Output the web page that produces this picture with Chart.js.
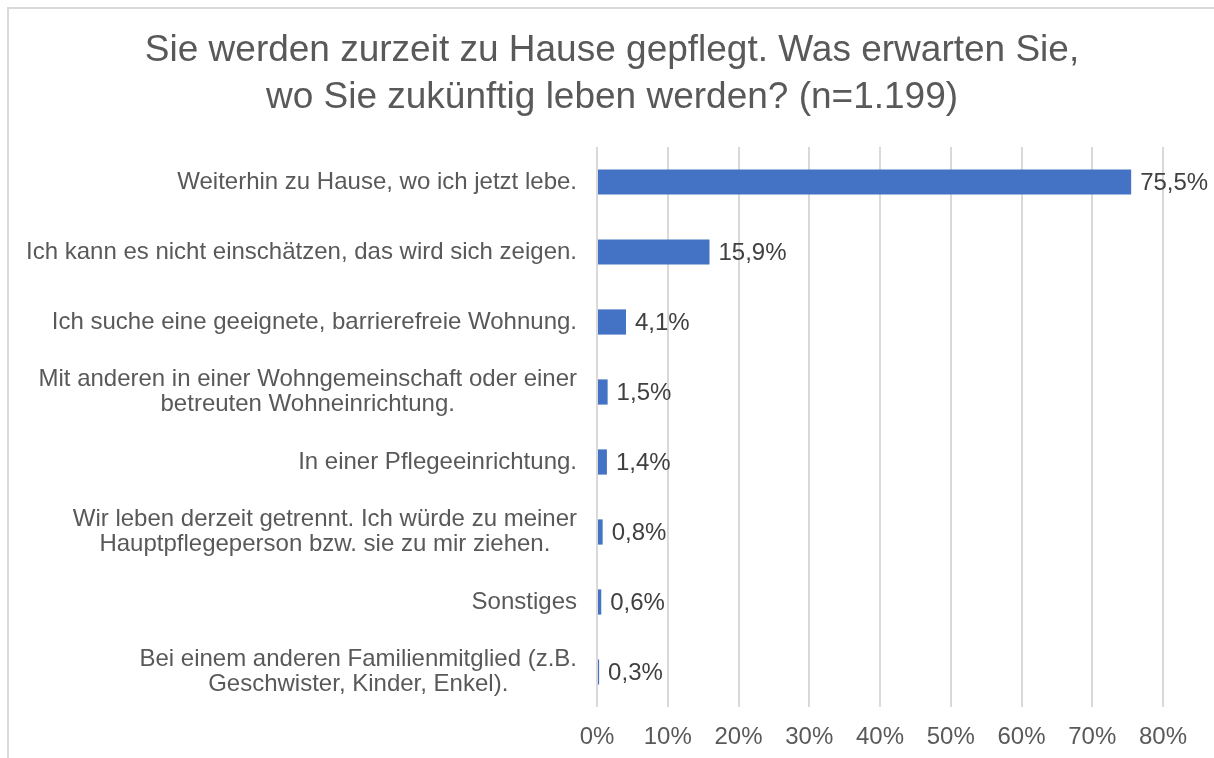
<!DOCTYPE html>
<html>
<head>
<meta charset="utf-8">
<script src="https://cdn.jsdelivr.net/npm/chart.js@4"></script>
<style>
  body { margin: 0; background: #fff; }
  #frame { position: absolute; left: 7px; top: 7px; width: 1300px; height: 900px;
           border-top: 2px solid #d9d9d9; border-left: 2px solid #d9d9d9; }
  #chart { position: absolute; left: 0; top: 0; }
</style>
</head>
<body>
<div id="frame"></div>
<canvas id="chart" width="1214" height="758"></canvas>
<script>
// categories (multi-line labels as arrays)
var categories = [
    ['Weiterhin zu Hause, wo ich jetzt lebe.'],
    ['Ich kann es nicht einschätzen, das wird sich zeigen.'],
    ['Ich suche eine geeignete, barrierefreie Wohnung.'],
    ['Mit anderen in einer Wohngemeinschaft oder einer', 'betreuten Wohneinrichtung.'],
    ['In einer Pflegeeinrichtung.'],
    ['Wir leben derzeit getrennt. Ich würde zu meiner', 'Hauptpflegeperson bzw. sie zu mir ziehen.'],
    ['Sonstiges'],
    ['Bei einem anderen Familienmitglied (z.B.', 'Geschwister, Kinder, Enkel).']
];
var values = [75.5, 15.9, 4.1, 1.5, 1.4, 0.8, 0.6, 0.3];
var titleLines = [
    'Sie werden zurzeit zu Hause gepflegt. Was erwarten Sie,',
    'wo Sie zukünftig leben werden? (n=1.199)'
];

var fontFamily = 'Arial, "Liberation Sans", sans-serif';

// title (centred on the whole chart box), value labels at bar ends,
// category labels (block right aligned, lines centred like Excel)
var labelPlugin = {
    id: 'labelPlugin',
    afterDatasetsDraw: function (chart) {
        var ctx = chart.ctx;
        var meta = chart.getDatasetMeta(0);
        var yScale = chart.scales.y;
        ctx.save();
        ctx.textBaseline = 'middle';

        ctx.font = '37px ' + fontFamily;
        ctx.fillStyle = '#595959';
        ctx.textAlign = 'center';
        titleLines.forEach(function (t, j) {
            ctx.fillText(t, 612, 51 + j * 47);
        });

        ctx.font = '24px ' + fontFamily;
        ctx.fillStyle = '#404040';
        ctx.textAlign = 'left';
        meta.data.forEach(function (bar, i) {
            var txt = values[i].toFixed(1).replace('.', ',') + '%';
            ctx.fillText(txt, bar.x + 9, bar.y + 1);
        });

        ctx.fillStyle = '#595959';
        ctx.textAlign = 'center';
        categories.forEach(function (lines, i) {
            var y = yScale.getPixelForTick(i);
            var w = Math.max.apply(null, lines.map(function (l) { return ctx.measureText(l).width; }));
            var cx = yScale.right - 20 - w / 2;
            lines.forEach(function (l, j) {
                ctx.fillText(l, cx, y + (j - (lines.length - 1) / 2) * 25);
            });
        });
        ctx.restore();
    }
};

var ctx = document.getElementById('chart').getContext('2d');
window.myBarChart = new Chart(ctx, {
    type: 'bar',
    data: {
        labels: categories,
        datasets: [{
            data: values,
            backgroundColor: '#4472C4',
            barPercentage: 0.36,
            categoryPercentage: 1
        }]
    },
    plugins: [labelPlugin],
    options: {
        responsive: false,
        animation: false,
        indexAxis: 'y',
        layout: { padding: { left: 10, right: 51, top: 147, bottom: 0 } },
        plugins: {
            legend: { display: false },
            tooltip: { enabled: false },
            title: { display: false }
        },
        scales: {
            x: {
                min: 0,
                max: 80,
                ticks: {
                    stepSize: 10,
                    color: '#595959',
                    padding: 16,
                    font: { family: fontFamily, size: 24 },
                    callback: function (v) { return v + '%'; }
                },
                grid: { color: '#d9d9d9', lineWidth: 2, drawTicks: false },
                border: { display: false },
                afterFit: function (scale) { scale.height = 51; }
            },
            y: {
                ticks: { display: false },
                grid: { display: false, drawTicks: false },
                border: { display: false },
                afterFit: function (scale) { scale.width = 587; }
            }
        }
    }
});
</script>
</body>
</html>
